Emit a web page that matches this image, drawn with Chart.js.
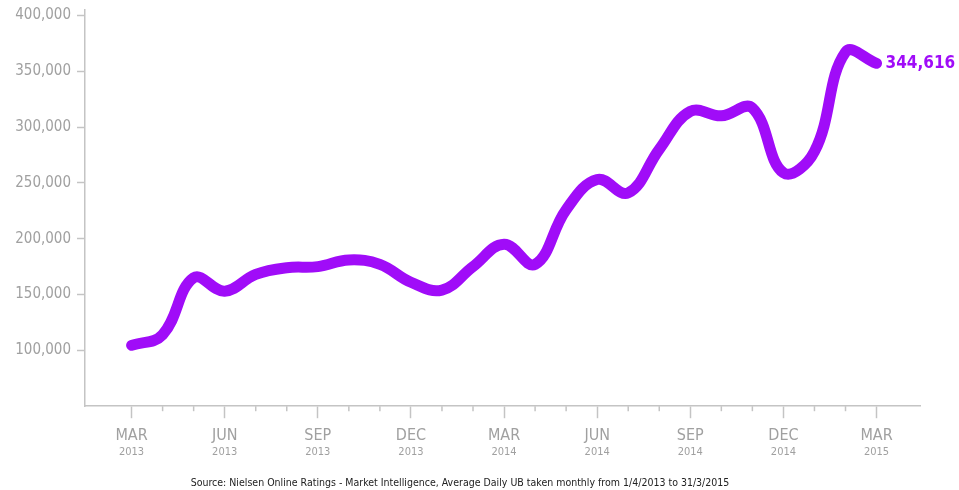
<!DOCTYPE html>
<html>
<head>
<meta charset="utf-8">
<script src="https://cdn.jsdelivr.net/npm/chart.js@4"></script>
<style>
  html,body{margin:0;padding:0;background:#fff;}
  #wrap{width:959px;height:490px;}
</style>
</head>
<body>
<div id="wrap"><canvas id="chart"></canvas></div>
<script>
/* DATA */
const months = [0,1,2,3,4,5,6,7,8,9,10,11,12,13,14,15,16,17,18,19,20,21,22,23,24]; // Mar 2013 .. Mar 2015
const dailyUB = [104500,114000,165000,153000,168000,174000,175000,181000,177000,161000,154000,175000,
                 195000,177000,226000,253000,241000,280000,314000,310000,317000,259000,278000,367000,357000];
const tickMonths = ["MAR","JUN","SEP","DEC","MAR","JUN","SEP","DEC","MAR"];
const tickYears  = ["2013","2013","2013","2013","2014","2014","2014","2014","2015"];
const yTicks = [100000,150000,200000,250000,300000,350000,400000];
const lastLabel = "344,616";
const sourceText = "Source: Nielsen Online Ratings - Market Intelligence, Average Daily UB taken monthly from 1/4/2013 to 31/3/2015";

const FONT = "'DejaVu Sans Condensed','Liberation Sans Narrow',sans-serif";
const GREY = "#a0a0a0";
const AXIS = "#c4c4c4";
const PURPLE = "#a00cf8";

const quarterTicks = tickMonths.map((m,i)=>i*3);

/* minor monthly ticks, year line, end label */
const extras = {
  id:"extras",
  afterDraw(chart){
    const ctx = chart.ctx;
    const xs = chart.scales.x;
    const bottom = chart.chartArea.bottom;
    ctx.save();
    ctx.strokeStyle = AXIS;
    ctx.lineWidth = 1.5;
    months.forEach(m=>{
      if(m%3===0) return;
      const px = xs.getPixelForValue(m);
      ctx.beginPath();
      ctx.moveTo(px,bottom);
      ctx.lineTo(px,bottom+5);
      ctx.stroke();
    });
    // years under the month labels
    ctx.fillStyle = GREY;
    ctx.font = "11px "+FONT;
    ctx.textAlign = "center";
    ctx.textBaseline = "middle";
    quarterTicks.forEach((q,i)=>{
      ctx.fillText(tickYears[i], xs.getPixelForValue(q), bottom+46);
    });
    // end value
    const pt = chart.getDatasetMeta(0).data[months.length-1];
    ctx.fillStyle = PURPLE;
    ctx.font = "bold 17px "+FONT;
    ctx.textAlign = "left";
    ctx.fillText(lastLabel, pt.x+9, pt.y);
    ctx.restore();
  }
};

new Chart(document.getElementById("chart"),{
  type:"line",
  data:{
    datasets:[{
      data: months.map((m,i)=>({x:m,y:dailyUB[i]})),
      borderColor: PURPLE,
      borderWidth: 11,
      borderCapStyle:"round",
      borderJoinStyle:"round",
      pointRadius:0,
      tension:0.4,
      fill:false
    }]
  },
  options:{
    responsive:true,
    maintainAspectRatio:false,
    animation:false,
    layout:{padding:{top:0,right:39,left:0,bottom:0}},
    plugins:{
      legend:{display:false},
      tooltip:{enabled:false},
      title:{
        display:true,
        position:"bottom",
        text:sourceText,
        color:"#222",
        font:{family:FONT,size:10.5,weight:"normal",lineHeight:1.2},
        padding:{top:24,bottom:0}
      }
    },
    scales:{
      x:{
        type:"linear",
        min:-1.5, max:25.4,
        afterBuildTicks:s=>{ s.ticks = quarterTicks.map(v=>({value:v})); },
        ticks:{
          callback:v=>tickMonths[v/3],
          color:GREY,
          font:{family:FONT,size:16,lineHeight:1.2},
          padding:8,
          maxRotation:0,
          autoSkip:false
        },
        grid:{drawOnChartArea:false,tickLength:12,tickColor:AXIS,tickWidth:1.5},
        border:{color:AXIS,width:1.5}
      },
      y:{
        min:50000, max:405000,
        afterBuildTicks:s=>{ s.ticks = yTicks.map(v=>({value:v})); },
        afterFit:s=>{ s.width = 85; },
        ticks:{
          callback:v=>v.toLocaleString("en-US"),
          color:GREY,
          font:{family:FONT,size:15,lineHeight:0.5},
          padding:6
        },
        grid:{drawOnChartArea:false,tickLength:8,tickColor:AXIS,tickWidth:1.5},
        border:{color:AXIS,width:1.5}
      }
    }
  },
  plugins:[extras]
});
</script>
</body>
</html>
